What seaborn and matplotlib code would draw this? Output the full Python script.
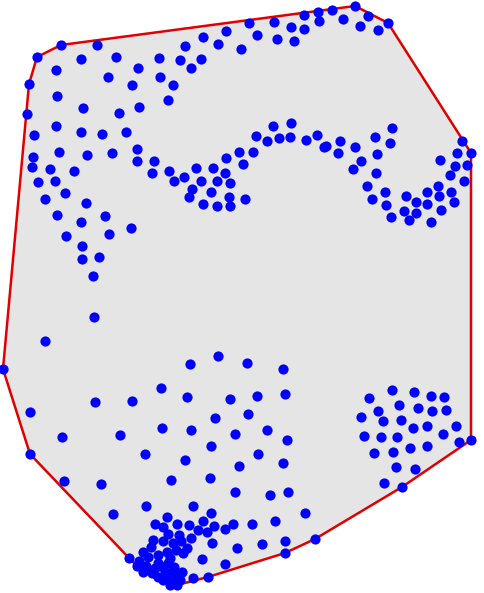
import numpy as np
import pandas as pd
import matplotlib
matplotlib.use("Agg")
import matplotlib.pyplot as plt
import seaborn as sns

# Point coordinates (image-style units: x to the right, y downward)
x_vals = [
    61, 97, 37, 81, 116, 159, 56, 138, 108, 160, 29, 132, 57, 83, 139, 119, 27, 56, 34, 81, 102, 126, 137, 59, 112,
    318, 304, 319, 304, 274, 291, 249, 257, 277, 294, 226, 203, 218, 185, 241, 180, 201, 191, 173, 168, 273, 291,
    256, 267, 279, 290, 306, 317, 324, 239, 253,
    332, 355, 343, 368, 360, 378, 388, 462, 392, 375, 390, 340, 326, 355,
    33, 87, 137, 154, 152, 32, 50, 74, 38, 55, 65, 45, 86, 57, 81, 105, 131, 66, 109, 82, 82, 99, 93,
    169, 174, 184, 196, 192, 201, 213, 217, 225, 230, 211, 189, 203, 217, 229, 230, 245, 226, 243,
    338, 377, 361, 353, 376, 367, 372, 385, 386, 391, 406, 404, 409, 416, 416, 427, 427, 431, 438, 439, 441,
    451, 454, 450, 455, 457, 440, 464, 467, 471,
    94, 45, 3, 30, 95, 132, 62, 120, 30, 145,
    218, 190, 247, 283, 161, 187, 230, 257, 285, 215, 248, 162, 191, 235, 267, 287, 211, 185, 239, 258, 283,
    171, 210,
    369, 392, 414, 431, 444, 399, 378, 418, 432, 446, 361, 383, 401, 413, 427, 456, 364, 381, 397, 443, 459,
    471, 374, 393, 410, 427, 396, 415, 384, 402,
    64, 101, 113,
    235, 270, 288, 225, 233, 252, 275, 305, 237, 262, 285, 315, 285, 225,
    146, 193, 211, 167, 155, 163, 177, 189, 203, 214, 198, 207, 168, 179, 191, 153, 163, 173, 181, 212, 151,
    187, 176, 143, 158, 167, 183, 148, 129, 202, 170, 139, 158, 168, 137, 146, 155, 163, 174, 143, 152, 165,
    173, 182, 158, 167, 177, 163, 172, 180, 170, 177, 193, 208,
]
y_vals = [
    45, 45, 57, 59, 57, 58, 70, 68, 77, 77, 84, 85, 96, 108, 107, 113, 114, 126, 135, 132, 134, 132, 149, 152, 153,
    12, 15, 21, 29, 22, 27, 23, 35, 39, 41, 31, 37, 44, 46, 49, 60, 59, 68, 85, 100, 126, 123,
    136, 141, 138, 137, 140, 135, 147, 152, 152,
    10, 6, 19, 16, 26, 30, 23, 141, 128, 137, 143, 141, 146, 147,
    157, 155, 161, 161, 173, 167, 169, 171, 182, 181, 193, 199, 203, 215, 222, 216, 228, 236, 234, 246, 259, 257, 276,
    171, 181, 177, 168, 189, 181, 168, 181, 173, 183, 192, 197, 204, 206, 197, 206, 199, 158, 164,
    153, 154, 161, 169, 173, 186, 199, 192, 205, 217, 196, 211, 220, 202, 213, 192, 204, 222, 186, 196, 210,
    192, 202, 175, 166, 153, 160, 181, 165, 153,
    317, 341, 369, 412, 402, 401, 437, 435, 454, 454,
    356, 364, 363, 369, 388, 397, 399, 396, 394, 418, 414, 428, 430, 434, 430, 440, 446, 460, 466, 454, 463,
    480, 478,
    398, 390, 392, 396, 397, 405, 411, 408, 411, 410, 417, 421, 420, 428, 426, 426, 436, 437, 437, 434, 442,
    440, 453, 452, 448, 446, 467, 469, 483, 487,
    481, 484, 514,
    492, 495, 492, 529, 524, 524, 521, 513, 548, 544, 541, 539, 553, 564,
    506, 506, 513, 517, 524, 527, 524, 525, 521, 526, 530, 532, 534, 535, 538, 540, 541, 543, 541, 543, 547,
    548, 550, 552, 555, 552, 553, 557, 558, 559, 558, 561, 563, 563, 566, 566, 568, 567, 567, 572, 573, 572,
    571, 572, 577, 577, 575, 580, 581, 580, 585, 585, 578, 577,
]

df = pd.DataFrame({"x": x_vals, "y": y_vals})


def convex_hull(pts):
    pts = sorted(set(map(tuple, pts)))
    if len(pts) <= 2:
        return pts

    def cross(o, a, b):
        return (a[0] - o[0]) * (b[1] - o[1]) - (a[1] - o[1]) * (b[0] - o[0])

    lower, upper = [], []
    for p in pts:
        while len(lower) >= 2 and cross(lower[-2], lower[-1], p) <= 0:
            lower.pop()
        lower.append(p)
    for p in reversed(pts):
        while len(upper) >= 2 and cross(upper[-2], upper[-1], p) <= 0:
            upper.pop()
        upper.append(p)
    return lower[:-1] + upper[:-1]


hull = np.array(convex_hull(df[["x", "y"]].values))
hull_closed = np.vstack([hull, hull[:1]])

sns.set_style("white")
fig = plt.figure(figsize=(4.84, 5.93), dpi=100)
ax = fig.add_axes([0, 0, 1, 1])
ax.fill(hull_closed[:, 0], hull_closed[:, 1], color="#e5e5e5", zorder=1)
ax.plot(hull_closed[:, 0], hull_closed[:, 1], color="#e00000", lw=1.8, zorder=2)
sns.scatterplot(data=df, x="x", y="y", ax=ax, color="#0000ff", s=54,
                linewidth=0, zorder=3, legend=False)
ax.set_xlim(0, 484)
ax.set_ylim(593, 0)
ax.set_axis_off()
fig.savefig("out.png", dpi=100)
